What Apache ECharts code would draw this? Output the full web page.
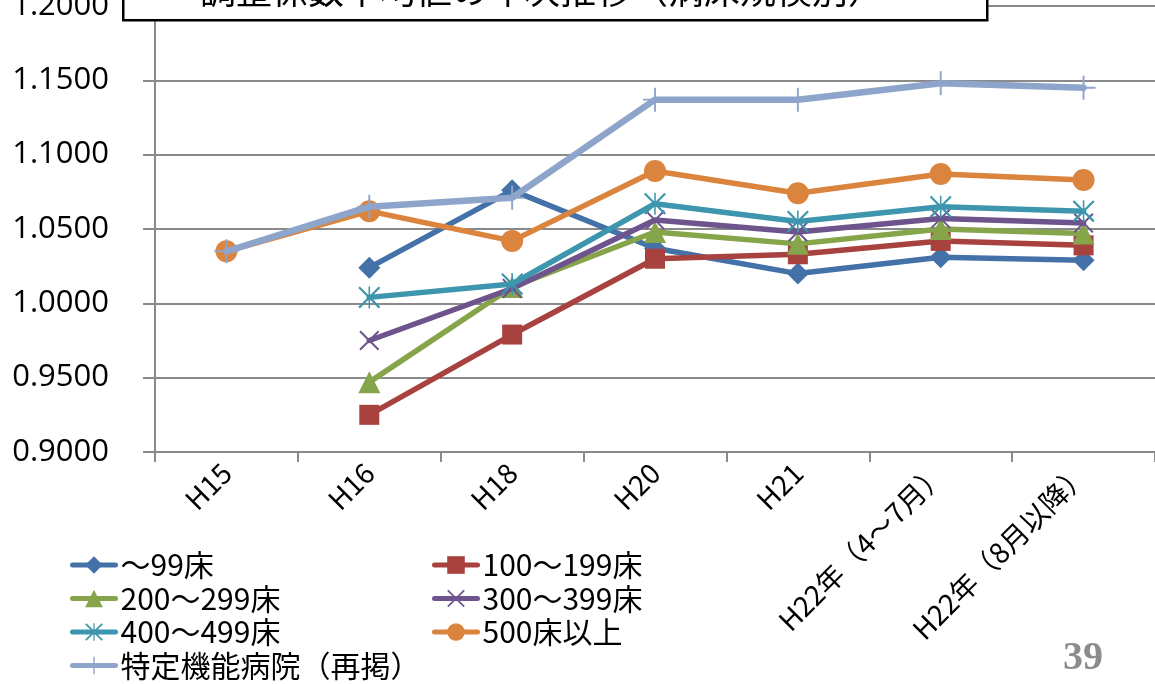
<!DOCTYPE html>
<html>
<head>
<meta charset="utf-8">
<script src="https://cdn.jsdelivr.net/npm/echarts@6/dist/echarts.min.js"></script>
<style>
html,body{margin:0;padding:0;background:#fff;}
#c{width:1155px;height:684px;}
</style>
</head>
<body>
<div id="c"></div>
<script>
const categories = ['H15','H16','H18','H20','H21','H22年（4～7月）','H22年（8月以降）'];
const seriesNames = ['～99床','100～199床','200～299床','300～399床','400～499床','500床以上','特定機能病院（再掲）'];
const s99   = [null, 1.024, 1.076, 1.037, 1.020, 1.031, 1.029];
const s199  = [null, 0.925, 0.979, 1.030, 1.033, 1.042, 1.039];
const s299  = [null, 0.947, 1.011, 1.048, 1.040, 1.050, 1.047];
const s399  = [null, 0.975, 1.010, 1.056, 1.048, 1.057, 1.054];
const s499  = [null, 1.004, 1.013, 1.067, 1.055, 1.065, 1.062];
const s500  = [1.035, 1.062, 1.042, 1.089, 1.074, 1.087, 1.083];
const sTok  = [1.035, 1.065, 1.071, 1.137, 1.137, 1.148, 1.145];
const yTicks = {min: 0.9, max: 1.2, interval: 0.05};

const colors = ['#4472A8','#A8423F','#86A44A','#6E548D','#3D96AE','#DB843D','#8EA5CB'];
const symX = 'path://M0,1.4 L1.4,0 L20,18.6 L18.6,20Z M18.6,0 L20,1.4 L1.4,20 L0,18.6Z';
const symAst = 'path://M0,1.4 L1.4,0 L20,18.6 L18.6,20Z M18.6,0 L20,1.4 L1.4,20 L0,18.6Z M9.3,0 L10.7,0 L10.7,20 L9.3,20Z';
const symPlus = 'path://M9.2,0 L10.8,0 L10.8,20 L9.2,20Z M0,9.2 L20,9.2 L20,10.8 L0,10.8Z';
const symbols = ['diamond','rect','triangle',symX,symAst,'circle',symPlus];
const sizes = [22,20,22,20,22,22,24];
const data = [s99,s199,s299,s399,s499,s500,sTok];

const series = data.map((d,i)=>({
  name: seriesNames[i],
  type: 'line',
  data: d,
  symbol: symbols[i],
  symbolSize: sizes[i],
  showAllSymbol: true,
  connectNulls: false,
  lineStyle: {color: colors[i], width: i===6 ? 6.5 : 5.5, cap: 'round'},
  itemStyle: {color: colors[i]},
  z: 2 + i,
  animation: false
}));

const chart = echarts.init(document.getElementById('c'));
const legendText = {fontFamily: '"Noto Sans CJK JP", sans-serif', fontSize: 30, color: '#000', lineHeight: 30};
const legendCommon = {orient: 'vertical', top: 550, height: 140, itemWidth: 43, itemHeight: 22, itemGap: 3.5,
  textStyle: legendText, selectedMode: false, padding: 0, itemStyle: {borderWidth: 0},
  lineStyle: {width: 5, cap: 'round'}};
chart.setOption({
  animation: false,
  grid: {left: 155, right: 0, top: 6, bottom: 232, containLabel: false, outerBoundsMode: 'none'},
  xAxis: {
    type: 'category',
    data: categories,
    boundaryGap: true,
    axisLine: {lineStyle: {color: '#8a8a8a', width: 2}},
    axisTick: {show: true, alignWithLabel: false, length: 10, lineStyle: {color: '#8a8a8a', width: 2}},
    axisLabel: {rotate: 45, fontSize: 28, color: '#000', margin: 16, fontFamily: '"Noto Sans CJK JP", sans-serif', interval: 0}
  },
  yAxis: {
    type: 'value',
    min: yTicks.min, max: yTicks.max, interval: yTicks.interval,
    axisLine: {show: true, lineStyle: {color: '#8a8a8a', width: 2}},
    axisTick: {show: true, length: 12, lineStyle: {color: '#8a8a8a', width: 2}},
    splitLine: {show: true, lineStyle: {color: '#8a8a8a', width: 2}},
    axisLabel: {fontSize: 31, color: '#000', margin: 46, fontFamily: '"Open Sans", "Liberation Sans", sans-serif', formatter: v => v.toFixed(4)}
  },
  legend: [
    Object.assign({left: 70, data: [seriesNames[0], seriesNames[2], seriesNames[4], seriesNames[6]]}, legendCommon),
    Object.assign({left: 432, data: [seriesNames[1], seriesNames[3], seriesNames[5]]}, legendCommon)
  ],
  graphic: [
    {type: 'rect', left: 122, top: -42, z: 100,
     shape: {width: 864, height: 61},
     style: {fill: '#fff', stroke: '#000', lineWidth: 2.5}},
    {type: 'text', x: 542, y: 8, z: 101,
     style: {text: '調整係数平均値の年次推移（病床規模別）', fill: '#000', font: '36px "Noto Sans CJK JP"', textAlign: 'center', textVerticalAlign: 'bottom'}},
    {type: 'text', x: 1083, y: 659, z: 101,
     style: {text: '39', fill: '#8c8c8c', font: 'bold 40px "Liberation Serif", serif', textAlign: 'center', textVerticalAlign: 'middle'}}
  ],
  series: series
});
</script>
</body>
</html>
